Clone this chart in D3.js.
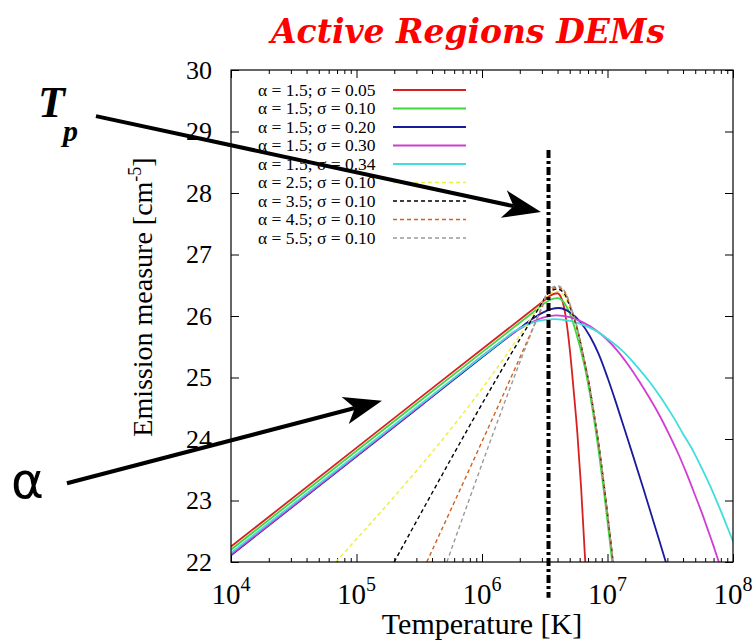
<!DOCTYPE html>
<meta charset="utf-8">
<svg width="755" height="644"></svg>
<script src="https://d3js.org/d3.v7.min.js"></script>

<style>
    body { margin: 0; background: #fff; }
    svg { display: block; }
    .axis path { stroke: none; }
    .axis line { stroke: #000; stroke-width: 1px; }
    .curve { fill: none; stroke-linejoin: round; }
    text { font-family: "Liberation Serif", "DejaVu Serif", serif; fill: #000; }
</style>

<script>

    // legend labels
    var labels = [
        "α = 1.5; σ = 0.05", "α = 1.5; σ = 0.10", "α = 1.5; σ = 0.20",
        "α = 1.5; σ = 0.30", "α = 1.5; σ = 0.34", "α = 2.5; σ = 0.10",
        "α = 3.5; σ = 0.10", "α = 4.5; σ = 0.10", "α = 5.5; σ = 0.10"
    ];

    // curves as [log10 T, log10 EM]
    var a15s005 = [[4.00, 22.25], [5.50, 24.66], [6.50, 26.26], [6.55, 26.34], [6.60, 26.37],
        [6.64, 26.25], [6.67, 25.95], [6.70, 25.45], [6.73, 24.80], [6.76, 24.09],
        [6.79, 23.20], [6.82, 22.10], [6.835, 21.60]];
    var a15s010 = [[4.00, 22.20], [5.50, 24.61], [6.40, 26.05], [6.48, 26.18], [6.54, 26.26],
        [6.60, 26.29], [6.66, 26.20], [6.71, 25.99], [6.754, 25.70], [6.807, 25.28],
        [6.85, 24.85], [6.887, 24.40], [6.93, 23.80], [6.967, 23.22], [7.00, 22.66],
        [7.033, 22.08], [7.05, 21.78]];
    var a15s020 = [[4.00, 22.11], [5.50, 24.52], [6.30, 25.80], [6.40, 25.95], [6.48, 26.05],
        [6.55, 26.11], [6.61, 26.13], [6.70, 26.06], [6.78, 25.91], [6.86, 25.67],
        [6.93, 25.38], [7.00, 25.00], [7.06, 24.64], [7.12, 24.26], [7.20, 23.75],
        [7.28, 23.23], [7.36, 22.70], [7.42, 22.30], [7.472, 21.95], [7.50, 21.76]];
    var a15s030 = [[4.00, 22.12], [5.50, 24.53], [6.20, 25.65], [6.30, 25.79], [6.40, 25.90],
        [6.50, 25.98], [6.59, 26.01], [6.70, 25.98], [6.80, 25.90], [6.90, 25.78],
        [7.00, 25.61], [7.073, 25.45], [7.16, 25.22], [7.259, 24.92], [7.34, 24.65],
        [7.418, 24.37], [7.49, 24.08], [7.564, 23.76], [7.63, 23.44], [7.697, 23.09],
        [7.75, 22.81], [7.79, 22.58], [7.84, 22.29], [7.887, 22.00], [7.92, 21.80]];
    var a15s034 = [[4.00, 22.15], [5.50, 24.55], [6.15, 25.58], [6.25, 25.74], [6.35, 25.85],
        [6.45, 25.92], [6.58, 25.95], [6.70, 25.92], [6.80, 25.86], [6.90, 25.77],
        [7.00, 25.63], [7.126, 25.42], [7.23, 25.19], [7.339, 24.92], [7.43, 24.66],
        [7.524, 24.36], [7.60, 24.09], [7.684, 23.80], [7.75, 23.53], [7.817, 23.24],
        [7.87, 22.99], [7.923, 22.73], [7.96, 22.54], [8.00, 22.34], [8.02, 22.24]];
    var a25s010 = [[4.835, 22.00], [6.38, 25.93], [6.45, 26.15], [6.52, 26.33], [6.60, 26.40],
        [6.66, 26.31], [6.71, 26.07], [6.76, 25.78], [6.81, 25.33], [6.855, 24.88],
        [6.892, 24.42], [6.935, 23.84], [6.972, 23.26], [7.005, 22.70], [7.04, 22.08],
        [7.06, 21.72]];
    var a35s010 = [[5.30, 22.00], [6.45, 26.12], [6.52, 26.35], [6.60, 26.44],
        [6.66, 26.35], [6.71, 26.10], [6.76, 25.78], [6.81, 25.33], [6.855, 24.88],
        [6.892, 24.42], [6.935, 23.84], [6.972, 23.26], [7.005, 22.70], [7.04, 22.08],
        [7.06, 21.72]];
    var a45s010 = [[5.56, 22.00], [6.47, 26.10], [6.53, 26.38], [6.60, 26.47],
        [6.66, 26.38], [6.71, 26.13], [6.76, 25.79], [6.81, 25.33], [6.855, 24.88],
        [6.892, 24.42], [6.935, 23.84], [6.972, 23.26], [7.005, 22.70], [7.04, 22.08],
        [7.06, 21.72]];
    var a55s010 = [[5.72, 22.00], [6.47, 26.12], [6.53, 26.42], [6.60, 26.49],
        [6.66, 26.40], [6.71, 26.14], [6.76, 25.80], [6.81, 25.33], [6.855, 24.88],
        [6.892, 24.42], [6.935, 23.84], [6.972, 23.26], [7.005, 22.70], [7.04, 22.08],
        [7.06, 21.72]];

    var series = [a15s005, a15s010, a15s020, a15s030, a15s034, a25s010, a35s010, a45s010, a55s010];

    var xDecades = [4, 5, 6, 7, 8];
    var yTicks = [22, 23, 24, 25, 26, 27, 28, 29, 30];
    var tpLog = 6.53; // peak temperature marker

    // styles
    var colors = ["#d82020", "#3ed83e", "#1a1a9c", "#d23cd2", "#3edede",
        "#eeee3a", "#000000", "#d2601e", "#9a9a9a"];
    var isDashed = [false, false, false, false, false, true, true, true, true];

    var svg = d3.select("svg"),
        margin = { top: 70, right: 22, bottom: 82, left: 231 },
        width = +svg.attr("width") - margin.left - margin.right,
        height = +svg.attr("height") - margin.top - margin.bottom;

    var x = d3.scaleLog()
        .domain([Math.pow(10, xDecades[0]), Math.pow(10, xDecades[xDecades.length - 1])])
        .range([0, width]);

    var y = d3.scaleLinear()
        .domain([yTicks[0], yTicks[yTicks.length - 1]])
        .range([height, 0]);

    var majorX = xDecades.map(function (e) { return Math.pow(10, e); });
    var minorX = x.ticks().filter(function (v) {
        return majorX.every(function (m) { return Math.abs(v / m - 1) > 1e-6; });
    });

    var focus = svg.append("g")
        .attr("transform", "translate(" + margin.left + "," + margin.top + ")");

    svg.append("defs").append("clipPath")
        .attr("id", "clip")
        .append("rect")
        .attr("width", width)
        .attr("height", height);

    // ticks, all pointing inward
    function tickAxis(axis, cls, tr) {
        focus.append("g")
            .attr("class", "axis " + cls)
            .attr("transform", tr)
            .call(axis)
            .selectAll("text").remove();
    }
    tickAxis(d3.axisBottom(x).tickValues(majorX).tickSize(-8).tickSizeOuter(0), "x-major", "translate(0," + height + ")");
    tickAxis(d3.axisBottom(x).tickValues(minorX).tickSize(-4).tickSizeOuter(0), "x-minor", "translate(0," + height + ")");
    tickAxis(d3.axisTop(x).tickValues(majorX).tickSize(-8).tickSizeOuter(0), "x-major", "translate(0,0)");
    tickAxis(d3.axisTop(x).tickValues(minorX).tickSize(-4).tickSizeOuter(0), "x-minor", "translate(0,0)");
    tickAxis(d3.axisLeft(y).tickValues(yTicks).tickSize(-8).tickSizeOuter(0), "y-left", "translate(0,0)");
    tickAxis(d3.axisRight(y).tickValues(yTicks).tickSize(-8).tickSizeOuter(0), "y-right", "translate(" + width + ",0)");

    // tick labels
    focus.selectAll(".ylab")
        .data(yTicks)
        .enter().append("text")
        .attr("class", "ylab")
        .attr("x", -19)
        .attr("y", function (d) { return y(d); })
        .attr("dy", "0.34em")
        .attr("text-anchor", "end")
        .style("font-size", "26px")
        .text(function (d) { return d; });

    var xl = focus.selectAll(".xlab")
        .data(xDecades)
        .enter().append("text")
        .attr("class", "xlab")
        .attr("x", function (d) { return x(Math.pow(10, d)); })
        .attr("y", height + 42)
        .attr("text-anchor", "middle")
        .style("font-size", "29px");
    xl.append("tspan").text("10");
    xl.append("tspan")
        .attr("dy", -13)
        .style("font-size", "20px")
        .text(function (d) { return d; });

    // axis titles
    svg.append("text")
        .attr("x", margin.left + width / 2)
        .attr("y", 634)
        .attr("text-anchor", "middle")
        .style("font-size", "30px")
        .text("Temperature [K]");

    var yt = svg.append("text")
        .attr("transform", "translate(152,297) rotate(-90)")
        .attr("text-anchor", "middle")
        .style("font-size", "28px");
    yt.append("tspan").text("Emission measure [cm");
    yt.append("tspan").attr("dy", -11).style("font-size", "18px").text("-5");
    yt.append("tspan").attr("dy", 11).text("]");

    // title
    svg.append("text")
        .attr("x", 468)
        .attr("y", 43)
        .attr("text-anchor", "middle")
        .style("font-family", "'DejaVu Serif', serif")
        .style("font-style", "italic")
        .style("font-weight", "bold")
        .style("font-size", "33px")
        .style("fill", "#ff0000")
        .text("Active Regions DEMs");

    // curves
    var line = d3.line()
        .x(function (d) { return x(Math.pow(10, d[0])); })
        .y(function (d) { return y(d[1]); })
        .curve(d3.curveMonotoneX);

    focus.append("g")
        .attr("clip-path", "url(#clip)")
        .selectAll("path")
        .data(series)
        .enter().append("path")
        .attr("class", "curve")
        .attr("stroke", function (d, i) { return colors[i]; })
        .attr("stroke-width", function (d, i) { return isDashed[i] ? 1.4 : 1.8; })
        .attr("stroke-dasharray", function (d, i) { return isDashed[i] ? "4,3" : null; })
        .attr("d", line);

    // border
    focus.append("rect")
        .attr("width", width)
        .attr("height", height)
        .attr("fill", "none")
        .attr("stroke", "#000")
        .attr("stroke-width", 1.2);

    // legend
    var legend = focus.selectAll(".legend")
        .data(labels)
        .enter().append("g")
        .attr("class", "legend")
        .attr("transform", function (d, i) { return "translate(0," + (20 + i * 18.5) + ")"; });

    legend.append("text")
        .attr("x", 27)
        .attr("dy", "0.33em")
        .style("font-size", "17.5px")
        .text(function (d) { return d; });

    legend.append("line")
        .attr("x1", 162)
        .attr("x2", 235)
        .attr("stroke", function (d, i) { return colors[i]; })
        .attr("stroke-width", function (d, i) { return isDashed[i] ? 1.4 : 1.8; })
        .attr("stroke-dasharray", function (d, i) { return isDashed[i] ? "4,3" : null; });

    // Tp marker
    focus.append("line")
        .attr("x1", x(Math.pow(10, tpLog)))
        .attr("x2", x(Math.pow(10, tpLog)))
        .attr("y1", y(28.70))
        .attr("y2", y(21.42))
        .attr("stroke", "#000")
        .attr("stroke-width", 4)
        .attr("stroke-dasharray", "8,3,3,3");

    // annotation arrows, given in data units (log10 T, EM)
    var arrows = [
        { from: [2.924, 29.25], to: [6.47, 27.69] },
        { from: [2.693, 23.28], to: [5.203, 24.62] }
    ];

    arrows.forEach(function (a) {
        var x0 = x(Math.pow(10, a.from[0])), y0 = y(a.from[1]),
            x1 = x(Math.pow(10, a.to[0])), y1 = y(a.to[1]);
        var ang = Math.atan2(y1 - y0, x1 - x0);
        var len = 38, half = 14, notch = 28;
        function pt(l, w) {
            return [x1 - l * Math.cos(ang) - w * Math.sin(ang), y1 - l * Math.sin(ang) + w * Math.cos(ang)];
        }
        focus.append("line")
            .attr("x1", x0).attr("y1", y0)
            .attr("x2", pt(notch, 0)[0]).attr("y2", pt(notch, 0)[1])
            .attr("stroke", "#000")
            .attr("stroke-width", 4);
        focus.append("path")
            .attr("d", "M" + [x1, y1] + "L" + pt(len, half) + "L" + pt(notch, 0) + "L" + pt(len, -half) + "Z")
            .attr("fill", "#000");
    });

    // annotation labels
    var tp = svg.append("text")
        .attr("x", 38)
        .attr("y", 117)
        .style("font-style", "italic")
        .style("font-weight", "bold")
        .style("font-size", "44px");
    tp.append("tspan").text("T");
    tp.append("tspan")
        .attr("x", 63)
        .attr("y", 141)
        .style("font-size", "30px")
        .text("p");

    svg.append("text")
        .attr("x", 11)
        .attr("y", 498)
        .style("font-family", "'DejaVu Sans', sans-serif")
        .style("font-size", "50px")
        .text("α");

</script>
